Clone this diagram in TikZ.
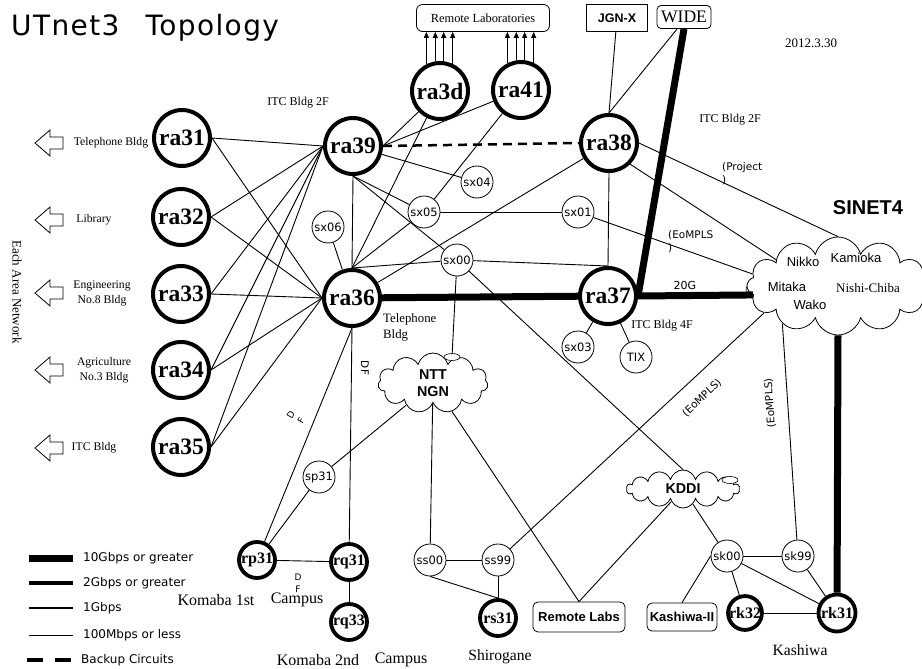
\documentclass[tikz,border=0pt]{standalone}
\usepackage{fontspec}
\setmainfont{Liberation Serif}
\newfontfamily\arialf{Liberation Sans}
\newfontfamily\gothf{DejaVu Sans}
\newfontfamily\titlef[LetterSpace=5]{DejaVu Sans}
\usetikzlibrary{shapes.symbols,shapes.geometric,arrows.meta}

\begin{document}
\begin{tikzpicture}[x=1pt,y=-1pt,
  router/.style={circle,draw,fill=white,line width=4pt,minimum size=56pt,inner sep=0pt,font=\bfseries\fontsize{23.5}{24}\selectfont},
  edger/.style={circle,draw,fill=white,line width=3.8pt,minimum size=36pt,inner sep=0pt,font=\bfseries\fontsize{16}{16}\selectfont},
  sw/.style={circle,draw,fill=white,line width=0.8pt,minimum size=32pt,inner sep=0pt,font=\gothf\fontsize{11.5}{12}\selectfont},
  netcloud/.style={cloud,draw,fill=white,cloud puffs=11,cloud ignores aspect,line width=0.8pt,inner sep=0pt,align=center,font=\arialf\bfseries\fontsize{14.3}{17}\selectfont},
  ext/.style={draw,fill=white,line width=0.8pt,inner sep=0pt},
  antenna/.style={ellipse,draw,fill=white,line width=0.6pt,minimum width=16pt,minimum height=7pt,inner sep=0pt},
  link/.style={line width=0.9pt},
  g10/.style={line width=7pt},
  backup/.style={line width=2.5pt,dash pattern=on 9pt off 6pt},
  txt/.style={inner sep=0pt,align=center,font=\fontsize{12}{15}\selectfont},
  stxt/.style={inner sep=0pt,align=left,font=\gothf\fontsize{10.5}{13}\selectfont},
  ctxt/.style={inner sep=0pt,font=\arialf\fontsize{13}{13}\selectfont},
  uparrow/.style={-{Triangle[length=6pt,width=5pt]},line width=0.9pt}
]
\useasboundingbox (0,0) rectangle (922,669);

% title, date
\node[anchor=west,inner sep=0pt,font=\titlef\fontsize{28}{28}\selectfont] (title) at (11,28) {UTnet3\hspace{26pt}Topology};
\node[txt,font=\fontsize{13}{13}\selectfont] (date) at (811,43) {2012.3.30};

% outside networks
\node[ext,rounded corners=6pt,minimum width=133pt,minimum height=27pt,font=\fontsize{12.4}{13}\selectfont] (rlabs) at (483,18) {Remote Laboratories};
\node[ext,minimum width=61pt,minimum height=27pt,font=\arialf\bfseries\fontsize{12.5}{13}\selectfont] (jgnx) at (617,18) {JGN-X};
\node[ext,rounded corners=4pt,minimum width=54pt,minimum height=23pt,font=\fontsize{17.6}{18}\selectfont] (wide) at (684,17) {WIDE};

\node[antenna,minimum width=12pt,minimum height=12pt] (sinetant) at (752,290) {};
\node[netcloud,minimum width=182pt,minimum height=98pt,cloud puffs=12] (sinet) at (838,286) {};
\node[netcloud,minimum width=110pt,minimum height=60pt] (ntt) at (433,383) {NTT\\NGN};
\node[netcloud,minimum width=113pt,minimum height=38pt,cloud puffs=14] (kddi) at (683,489) {KDDI};
\node[antenna] (nttant) at (452,357) {};
\node[antenna] (kddiant) at (730,480) {};

\node[ext,rounded corners=5pt,minimum width=92pt,minimum height=30pt,font=\arialf\bfseries\fontsize{13}{13}\selectfont] (remlabs) at (579,617) {Remote Labs};
\node[ext,rounded corners=5pt,minimum width=70pt,minimum height=28pt,font=\arialf\bfseries\fontsize{13}{13}\selectfont] (kashiwa2) at (682,617) {Kashiwa-II};

% core routers
\foreach \n/\x/\y in {31/182/138, 32/181/217, 33/181/294, 34/181/370, 35/181/447,
  39/353/146, 3d/440/91, 41/521/90, 38/609/143, 36/352/298, 37/608/296}
  \node[router] (ra\n) at (\x,\y) {ra\n};

% switches
\foreach \n/\x/\y in {sx04/477/182, sx05/424/212, sx01/578/212, sx06/328/227,
  sx00/457/260, sx03/578/347, TIX/636/357, sp31/319/477, ss00/430/560,
  ss99/498/560, sk00/727/556, sk99/798/556}
  \node[sw] (\n) at (\x,\y) {\n};

% campus routers
\node[edger] (rp31) at (257,560) {rp31};
\node[edger] (rq31) at (349,562) {rq31};
\node[edger] (rq33) at (349,622) {rq33};
\node[edger] (rs31) at (498,618) {rs31};
\node[edger,minimum size=33pt] (rk32) at (745,613) {rk32};
\node[edger,minimum size=37pt] (rk31) at (837,613) {rk31};

% area networks
\foreach \i/\y/\xt/\t in {1/143/111/{Telephone Bldg}, 2/220/94/Library,
  3/293/102/{Engineering\\No.8 Bldg}, 4/370/104/{Agriculture\\No.3 Bldg}, 5/448/94/{ITC Bldg}}{
  \draw[line width=0.8pt] (35,\y) -- ++(15,-13) -- ++(0,7) -- ++(13,0) -- ++(0,12)
    -- ++(-13,0) -- ++(0,7) -- cycle;
  \node[txt,font=\fontsize{11.7}{15}\selectfont] (area\i) at (\xt,\y) {\t};
}
\node[txt,rotate=-90,font=\fontsize{13}{13}\selectfont] (eachnet) at (17,292) {Each Area Network};

% links
\foreach \n in {31,...,35}{
  \draw[link] (ra\n.east) -- (ra39.west);
  \draw[link] (ra\n.east) -- (ra36.west);
}
\draw[link] (ra39.east) -- (ra3d);
\draw[link] (ra39.east) -- (ra41);
\draw[link] (ra39) -- (sx04);
\draw[link] (ra39.south) -- (ra36.north);
\draw[link] (ra39.south) -- (sx05);
\draw[link] (ra39.south) -- (sx00);
\draw[link] (sx00) -- (kddi.north);
\draw[backup] (ra39.east) -- (ra38.west);
\draw[link] (ra36.north) -- (ra3d);
\draw[link] (ra36.north) -- (sx05);
\draw[link] (ra36.north) -- (sx00);
\draw[link] (ra36) -- (sx06);
\draw[link] (ra36) -- (ra38);
\draw[link] (ra41) -- (sx05);
\draw[link] (sx05) -- (sx01);
\draw[link] (sx01) -- (sinet.172);
\draw[link] (jgnx) -- (ra38.north);
\draw[link] (wide.240) -- (ra38.north);
\draw[link] (ra38.east) -- (sinet.north);
\draw[link] (ra38.south east) -- (sinet.157);
\draw[link] (ra38.south) -- (ra37.north);
\draw[link] (sx00) -- (ra37.north);
\draw[link] (ra37) -- (sx03);
\draw[link] (ra37) -- (TIX);
\draw[link] (sx00) -- (nttant);
\draw[g10] (ra36) -- (ra37);
\draw[g10] (ra37.east) -- (sinet.186);
\draw[g10] (wide.south) -- (ra37.east);
\draw[g10] (sinet.south) -- (rk31);

\draw[link] (ra36.south) -- (rq31);
\draw[link] (ra36.south) -- (rp31);
\draw[link] (ntt) -- (sp31);
\draw[link] (sp31) -- (rp31);
\draw[link] (rp31) -- (rq31);
\draw[link] (rq31) -- (rq33);
\draw[link] (ntt) -- (ss00);
\draw[link] (ntt) -- (remlabs.north);
\draw[link] (ss00) -- (ss99);
\draw[link] (ss00.south) -- (rs31.north);
\draw[link] (ss99) -- (rs31);
\draw[link] (ss99) -- (sinet.200);
\draw[link] (kddi) -- (remlabs.north);
\draw[link] (kddi) -- (sk00);
\draw[link] (sk00.west) -- (kashiwa2.north);
\draw[link] (sk00) -- (sk99);
\draw[link] (sk00) -- (rk32);
\draw[link] (sk00) -- (rk31);
\draw[link] (sk99) -- (rk31);
\draw[link] (rk32) -- (rk31);
\draw[link] (sk99) -- (sinet.214);

\foreach \a in {117,99,83,65}{
  \draw[uparrow] (ra3d.\a) -- (ra3d.\a |- rlabs.south);
  \draw[uparrow] (ra41.\a) -- (ra41.\a |- rlabs.south);
}

% labels
\node[txt] (itc2a) at (298,103) {ITC Bldg 2F};
\node[txt] (itc2b) at (730,120) {ITC Bldg 2F};
\node[txt,align=left,anchor=west,font=\fontsize{12.8}{16}\selectfont] (telbldg) at (383,327) {Telephone\\Bldg};
\node[txt] (itc4) at (662,326) {ITC Bldg 4F};
\node[stxt,font=\gothf\fontsize{11}{11}\selectfont] (g20) at (685,285) {20G};
\node[stxt,anchor=west] (eompls1) at (668,242) {(EoMPLS\\)};
\node[stxt,anchor=west] (project) at (722,174) {(Project\\)};
\node[stxt,rotate=94] (eompls2) at (770,403) {(EoMPLS)};
\node[stxt,rotate=43] (eompls3) at (702,398) {(EoMPLS)};
\node[stxt,rotate=-90] (df1) at (365,368) {DF};
\node[stxt,align=center,rotate=60,font=\gothf\fontsize{9}{12}\selectfont] (df2) at (296,418) {D\\F};
\node[stxt,align=center,font=\gothf\fontsize{9}{12}\selectfont] (df3) at (298,583) {D\\F};
\node[inner sep=0pt,font=\arialf\bfseries\fontsize{20}{20}\selectfont] (sinetname) at (868,208) {SINET4};
\node[ctxt] (nikko) at (803,262) {Nikko};
\node[ctxt] (kamioka) at (856,258) {Kamioka};
\node[ctxt] (mitaka) at (787,287) {Mitaka};
\node[ctxt] (wako) at (810,305) {Wako};
\node[txt,font=\fontsize{13}{13}\selectfont] (nishi) at (868,288) {Nishi-Chiba};
\node[txt,font=\fontsize{16}{16}\selectfont] (komaba1) at (216,600) {Komaba 1st};
\node[txt,font=\fontsize{16}{16}\selectfont] (campus1) at (297,600) {Campus};
\node[txt,font=\fontsize{16}{16}\selectfont] (komaba2) at (318,660) {Komaba 2nd};
\node[txt,font=\fontsize{16}{16}\selectfont] (campus2) at (401,660) {Campus};
\node[txt,font=\fontsize{15.6}{16}\selectfont] (shirogane) at (500,657) {Shirogane};
\node[txt,font=\fontsize{15.7}{16}\selectfont] (kashiwa) at (800,650) {Kashiwa};

% legend
\foreach \i/\y/\w/\t in {1/558/7pt/10Gbps or greater, 2/583/4pt/2Gbps or greater,
  3/608/1.5pt/1Gbps, 4/635/0.8pt/100Mbps or less}{
  \draw[line width=\w] (29,\y) -- (73,\y);
  \node[stxt,anchor=west,font=\gothf\fontsize{12}{12}\selectfont] (leg\i) at (83,\y) {\t};
}
\draw[line width=4pt,dash pattern=on 16pt off 12pt] (27,660) -- (72,660);
\node[stxt,anchor=west,font=\gothf\fontsize{12}{12}\selectfont] (leg5) at (81,660) {Backup Circuits};
\end{tikzpicture}
\end{document}
